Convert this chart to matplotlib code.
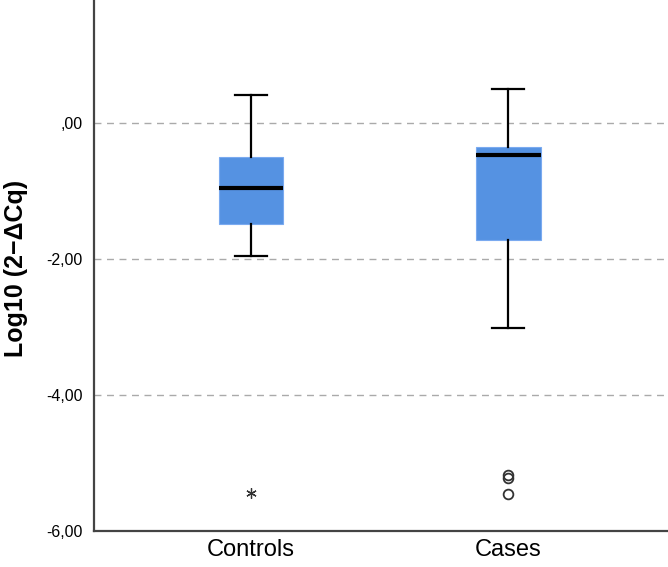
import matplotlib
matplotlib.use("Agg")
import matplotlib.pyplot as plt

# values
groups = ["Controls", "Cases"]
whisker_low = [-1.96, -3.01]
box_q1 = [-1.49, -1.72]
median = [-0.96, -0.47]
box_q3 = [-0.50, -0.35]
whisker_high = [0.41, 0.50]
extremes = [[-5.44], []]          # drawn as asterisks
outliers = [[], [-5.18, -5.22, -5.46]]  # drawn as open circles

yticks = [-6, -4, -2, 0]
ytick_labels = ["-6,00", "-4,00", "-2,00", ",00"]

plt.rcParams["font.family"] = ["Liberation Sans", "DejaVu Sans"]

fig = plt.figure(figsize=(6.68, 5.67), dpi=100)
ax = fig.add_axes([0.1407, 0.0635, 0.8593, 0.9365])

stats = []
for i, g in enumerate(groups):
    stats.append(dict(label=g, whislo=whisker_low[i], q1=box_q1[i], med=median[i],
                      q3=box_q3[i], whishi=whisker_high[i], fliers=[]))

pos = [1, 2]
ax.bxp(stats, positions=pos, widths=0.25, patch_artist=True, showfliers=False,
       boxprops=dict(facecolor="#5592e2", edgecolor="#7aaaf0", linewidth=0.8),
       medianprops=dict(color="black", linewidth=3),
       whiskerprops=dict(color="black", linewidth=1.6),
       capprops=dict(color="black", linewidth=1.6), capwidths=0.125, zorder=3)

for p, vals in zip(pos, extremes):
    ax.plot([p] * len(vals), vals, linestyle="none", marker=(6, 2, 0), markersize=7.5,
            markeredgecolor="#333333", markeredgewidth=0.9, zorder=4)
for p, vals in zip(pos, outliers):
    ax.plot([p] * len(vals), vals, linestyle="none", marker="o", markersize=7,
            markerfacecolor="none", markeredgecolor="#333333", markeredgewidth=1.3, zorder=4)

ax.set_xlim(0.39, 2.62)
ax.set_ylim(-6, 1.81)
ax.set_yticks(yticks)
ax.set_yticklabels(ytick_labels, fontsize=11.5)
ax.set_xticks(pos)
ax.set_xticklabels(groups, fontsize=17)
ax.tick_params(axis="x", length=0, pad=6)
ax.tick_params(axis="y", length=0, pad=8)

for y in yticks[1:]:
    ax.axhline(y, color="#aaaaaa", linestyle=(0, (5, 4)), linewidth=1, zorder=1)

for s in ["top", "right"]:
    ax.spines[s].set_visible(False)
for s in ["left", "bottom"]:
    ax.spines[s].set_color("#444444")
    ax.spines[s].set_linewidth(1.6)

fig.text(16 / 668, 0.527, "Log10 (2\u2212\u0394Cq)", rotation=90, ha="center", va="center",
         fontsize=18, fontweight="bold")

fig.savefig("out.png", dpi=100)
